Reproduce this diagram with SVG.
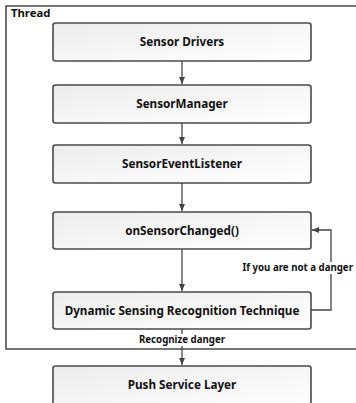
<svg xmlns="http://www.w3.org/2000/svg" width="356" height="403" viewBox="0 0 356 403">
<defs>
<linearGradient id="g" x1="0" y1="0" x2="1" y2="1">
<stop offset="0" stop-color="#ececec"/>
<stop offset="1" stop-color="#ffffff"/>
</linearGradient>
<marker id="ah" markerWidth="8" markerHeight="8" refX="7" refY="4" orient="auto" markerUnits="userSpaceOnUse">
<path d="M0,1 L7,4 L0,7 Z" fill="#444"/>
</marker>
</defs>
<style>
.box{fill:url(#g);stroke:#4a4a4a;stroke-width:1.6}
.t{font-family:"Noto Sans","Open Sans",sans-serif;font-weight:bold;font-size:11.7px;fill:#111;text-anchor:middle}
.lbl{font-family:"Noto Sans","Open Sans",sans-serif;font-weight:bold;font-size:9.7px;fill:#111}
.c{fill:none;stroke:#444;stroke-width:1.3}
</style>
<rect width="356" height="403" fill="#fff"/>
<g id="thread">
<path d="M358,6 H6 V349 H358" fill="none" stroke="#4a4a4a" stroke-width="1.6"/>
<text x="11" y="17" class="lbl" style="font-size:11.3px">Thread</text>
</g>
<g id="connectors">
<line class="c" x1="182" y1="61" x2="182" y2="84" marker-end="url(#ah)"/>
<line class="c" x1="182" y1="123" x2="182" y2="144" marker-end="url(#ah)"/>
<line class="c" x1="182" y1="183" x2="182" y2="211" marker-end="url(#ah)"/>
<line class="c" x1="182" y1="249" x2="182" y2="291" marker-end="url(#ah)"/>
<path class="c" d="M311,310 H331 V230 H312" marker-end="url(#ah)"/>
<line class="c" x1="182" y1="329" x2="182" y2="365" marker-end="url(#ah)"/>
<rect x="238" y="262" width="116" height="12" fill="#fff"/>
<text x="353" y="271" class="lbl" text-anchor="end">If you are not a danger</text>
<rect x="134" y="334" width="96" height="12" fill="#fff"/>
<text x="182" y="343" class="lbl" text-anchor="middle">Recognize danger</text>
</g>
<g id="n1"><rect class="box" x="53" y="23" width="258" height="38" rx="2.5"/><text class="t" x="182" y="46">Sensor Drivers</text></g>
<g id="n2"><rect class="box" x="53" y="85" width="258" height="38" rx="2.5"/><text class="t" x="182" y="108">SensorManager</text></g>
<g id="n3"><rect class="box" x="53" y="145" width="258" height="38" rx="2.5"/><text class="t" x="182" y="168">SensorEventListener</text></g>
<g id="n4"><rect class="box" x="53" y="212" width="258" height="37" rx="2.5"/><text class="t" x="182" y="235">onSensorChanged()</text></g>
<g id="n5"><rect class="box" x="53" y="292" width="258" height="37" rx="2.5"/><text class="t" x="182" y="315">Dynamic Sensing Recognition Technique</text></g>
<g id="n6"><rect class="box" x="53" y="366" width="258" height="45" rx="2.5"/><text class="t" x="182" y="389">Push Service Layer</text></g>
</svg>
